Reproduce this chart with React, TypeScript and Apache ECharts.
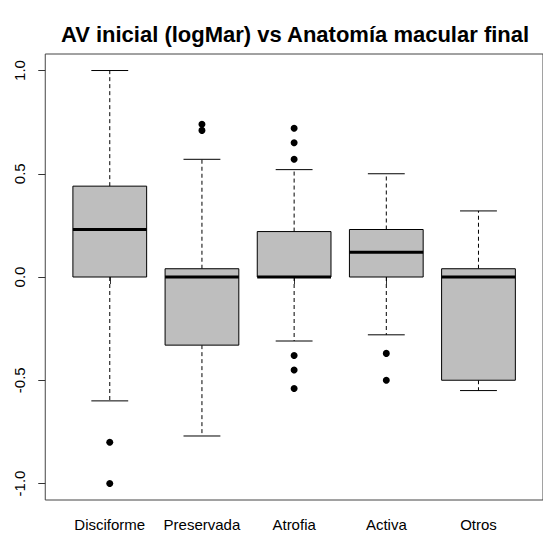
import React, { useEffect, useRef } from "react";
import * as echarts from "echarts";

const categories = ["Disciforme", "Preservada", "Atrofia", "Activa", "Otros"];
const whiskerLow = [-0.6, -0.77, -0.31, -0.28, -0.55];
const q1 = [0, -0.33, 0, 0, -0.5];
const median = [0.23, 0, 0, 0.12, 0];
const q3 = [0.44, 0.04, 0.22, 0.23, 0.04];
const whiskerHigh = [1.0, 0.57, 0.52, 0.5, 0.32];
const outliers: number[][] = [
  [-0.8, -1.0],
  [0.74, 0.71],
  [0.72, 0.65, 0.57, -0.38, -0.45, -0.54],
  [-0.37, -0.5],
  [],
];
const yTicks = [-1, -0.5, 0, 0.5, 1];
const xTicks = [1, 2, 3, 4, 5];

const FONT = '"Liberation Sans", Arial, sans-serif';

export default function App() {
  const ref = useRef<HTMLDivElement>(null);
  useEffect(() => {
    if (!ref.current) return;
    const chart = echarts.init(ref.current, null, { renderer: "svg" });
    const boxData = categories.map((_, i) => [
      i + 1,
      whiskerLow[i],
      q1[i],
      median[i],
      q3[i],
      whiskerHigh[i],
    ]);
    const outlierData: number[][] = [];
    outliers.forEach((arr, i) => arr.forEach((v) => outlierData.push([i + 1, v])));

    chart.setOption({
      animation: false,
      backgroundColor: "#ffffff",
      graphic: [
        {
          type: "text",
          x: 295,
          y: 34,
          style: {
            text: "AV inicial (logMar) vs Anatomía macular final",
            font: `bold 22px ${FONT}`,
            fill: "#000",
            textAlign: "center",
            textVerticalAlign: "middle",
          },
        },
      ],
      grid: {
        left: 45.25,
        top: 54,
        width: 499.5,
        height: 446,
        show: true,
        borderColor: "#444",
        borderWidth: 1,
        backgroundColor: "transparent",
      },
      xAxis: {
        type: "value",
        min: 0.3,
        max: 5.7,
        splitLine: { show: false },
        axisLine: { show: false },
        axisTick: {
          show: true,
          customValues: xTicks,
          length: 7,
          lineStyle: { color: "#333", width: 1 },
        },
        axisLabel: {
          customValues: xTicks,
          formatter: (v: number) => categories[Math.round(v) - 1] ?? "",
          margin: 17,
          fontSize: 15,
          fontFamily: FONT,
          color: "#000",
        },
      },
      yAxis: {
        type: "value",
        min: -1.08,
        max: 1.08,
        splitLine: { show: false },
        axisLine: { show: false },
        axisTick: {
          show: true,
          customValues: yTicks,
          length: 7,
          lineStyle: { color: "#333", width: 1 },
        },
        axisLabel: {
          customValues: yTicks,
          formatter: (v: number) => v.toFixed(1),
          rotate: 90,
          margin: 18,
          fontSize: 15,
          fontFamily: FONT,
          color: "#000",
        },
      },
      series: [
        {
          type: "custom",
          data: boxData,
          encode: { x: 0, y: [1, 2, 3, 4, 5] },
          renderItem: (params: any, api: any) => {
            const x = api.value(0);
            const lo = api.value(1);
            const b1 = api.value(2);
            const md = api.value(3);
            const b3 = api.value(4);
            const hi = api.value(5);
            const half = api.size([0.4, 0])[0];
            const capHalf = api.size([0.2, 0])[0];
            const pLo = api.coord([x, lo]);
            const pQ1 = api.coord([x, b1]);
            const pMd = api.coord([x, md]);
            const pQ3 = api.coord([x, b3]);
            const pHi = api.coord([x, hi]);
            const cx = pMd[0];
            const dash = { stroke: "#000", lineWidth: 1, lineDash: [4, 3] };
            const solid = { stroke: "#000", lineWidth: 1 };
            return {
              type: "group",
              children: [
                { type: "line", shape: { x1: cx, y1: pQ3[1], x2: cx, y2: pHi[1] }, style: dash },
                { type: "line", shape: { x1: cx, y1: pQ1[1], x2: cx, y2: pLo[1] }, style: dash },
                { type: "line", shape: { x1: cx - capHalf, y1: pHi[1], x2: cx + capHalf, y2: pHi[1] }, style: solid },
                { type: "line", shape: { x1: cx - capHalf, y1: pLo[1], x2: cx + capHalf, y2: pLo[1] }, style: solid },
                {
                  type: "rect",
                  shape: { x: cx - half, y: pQ3[1], width: half * 2, height: pQ1[1] - pQ3[1] },
                  style: { fill: "#BEBEBE", stroke: "#000", lineWidth: 1 },
                },
                {
                  type: "line",
                  shape: { x1: cx - half, y1: pMd[1], x2: cx + half, y2: pMd[1] },
                  style: { stroke: "#000", lineWidth: 3 },
                },
              ],
            };
          },
        },
        {
          type: "scatter",
          data: outlierData,
          symbol: "circle",
          symbolSize: 7,
          itemStyle: { color: "#000", opacity: 1 },
        },
      ],
    });
    return () => chart.dispose();
  }, []);
  return (
    <div
      ref={ref}
      style={{ position: "absolute", left: 0, top: 0, width: 543, height: 535 }}
    />
  );
}
